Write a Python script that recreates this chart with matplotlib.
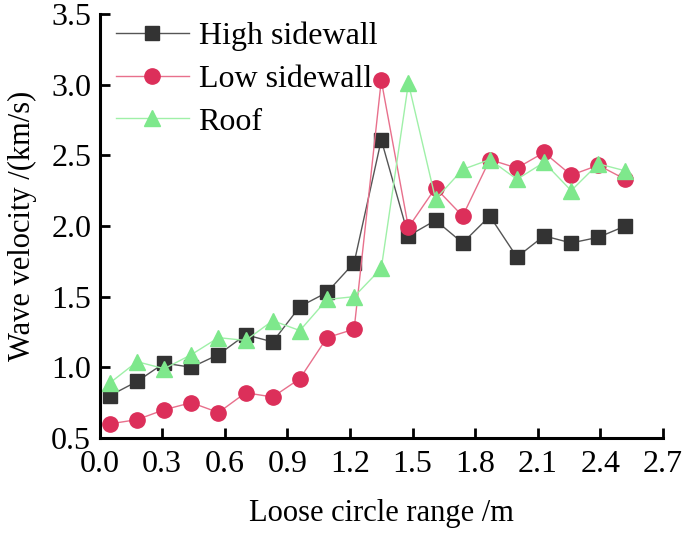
import matplotlib
matplotlib.use("Agg")
import matplotlib.pyplot as plt
import numpy as np

# loose circle range (m)
x = [0.05 + 0.13 * i for i in range(20)]

high_sidewall = [0.80, 0.90, 1.03, 1.00, 1.09, 1.23, 1.18, 1.43, 1.53, 1.74,
                 2.61, 1.93, 2.04, 1.88, 2.07, 1.78, 1.93, 1.88, 1.92, 2.00]
low_sidewall = [0.60, 0.63, 0.70, 0.75, 0.68, 0.82, 0.79, 0.92, 1.21, 1.27,
                3.03, 1.99, 2.27, 2.07, 2.47, 2.41, 2.52, 2.36, 2.43, 2.33]
roof = [0.89, 1.04, 0.99, 1.09, 1.21, 1.19, 1.33, 1.26, 1.48, 1.50,
        1.70, 3.01, 2.19, 2.40, 2.47, 2.33, 2.45, 2.25, 2.44, 2.39]

xticks = [0.0, 0.3, 0.6, 0.9, 1.2, 1.5, 1.8, 2.1, 2.4, 2.7]
yticks = [0.5, 1.0, 1.5, 2.0, 2.5, 3.0, 3.5]

plt.rcParams['font.family'] = ['Liberation Serif', 'DejaVu Serif']

fig = plt.figure(figsize=(6.85, 5.34), dpi=100)
ax = fig.add_axes([0.1453, 0.1798, 0.8226, 0.794])

ax.plot(x, high_sidewall, color='#555555', lw=1.0, marker='s', ms=10,
        mfc='#333333', mec='#333333', label='High sidewall')
ax.plot(x, low_sidewall, color='#e8708c', lw=1.0, marker='o', ms=11,
        mfc='#dc2f5a', mec='#dc2f5a', label='Low sidewall')
ax.plot(x, roof, color='#9ff0a8', lw=1.0, marker='^', ms=12,
        mfc='#7ee88c', mec='#7ee88c', label='Roof')

ax.set_xlim(0.0, 2.7)
ax.set_ylim(0.5, 3.5)
ax.set_xticks(xticks)
ax.set_yticks(yticks)
ax.set_xticklabels([f'{v:.1f}' for v in xticks])
ax.set_yticklabels([f'{v:.1f}' for v in yticks])
ax.tick_params(direction='in', length=7, width=2, labelsize=23)
ax.tick_params(axis='x', pad=9)
ax.tick_params(axis='y', pad=6)

for side in ['top', 'right']:
    ax.spines[side].set_visible(False)
for side in ['left', 'bottom']:
    ax.spines[side].set_linewidth(2.2)

ax.set_xlabel('Loose circle range /m', fontsize=22, labelpad=14)
ax.set_ylabel('Wave velocity /(km/s)', fontsize=22, labelpad=10)

ax.legend(loc='upper left', bbox_to_anchor=(0.0, 1.02), frameon=False,
          fontsize=23, handlelength=2.3, handletextpad=0.3,
          labelspacing=0.42, borderaxespad=0.2, borderpad=0.3)

fig.savefig('out.png', dpi=100)
